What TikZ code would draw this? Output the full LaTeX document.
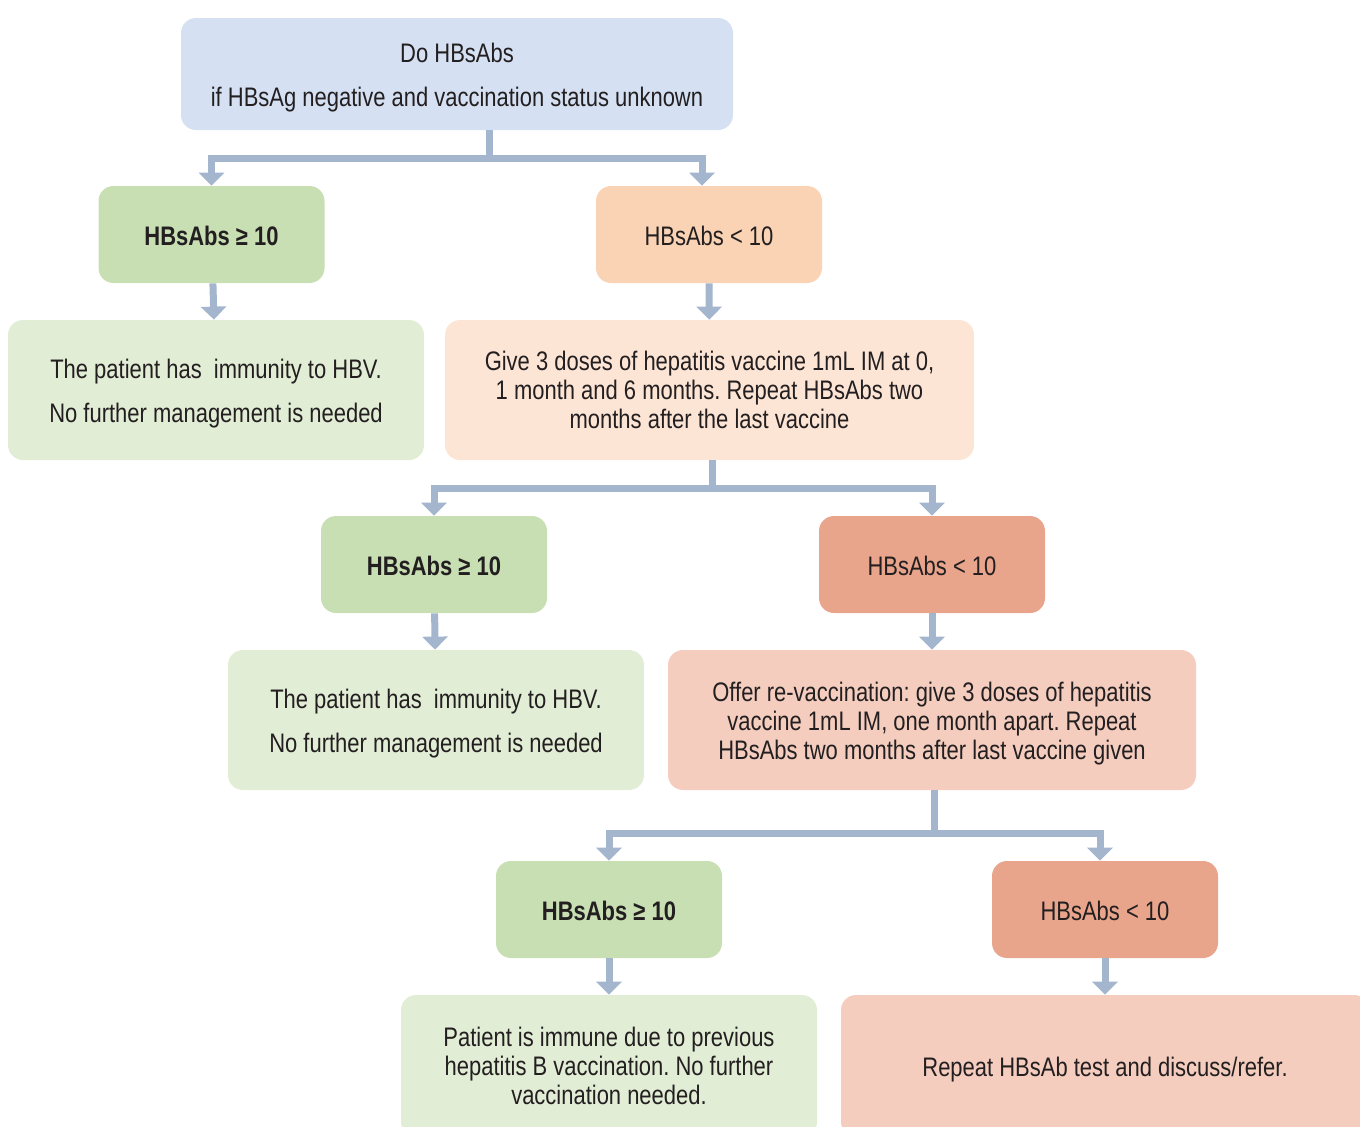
\documentclass[tikz,border=0pt]{standalone}
\usepackage{fontspec}
\setmainfont[FakeStretch=0.82]{Liberation Sans}
\frenchspacing
\usetikzlibrary{arrows.meta}

\definecolor{topblue}{HTML}{D5E1F3}
\definecolor{okgreen}{HTML}{C8DFB4}
\definecolor{okpale}{HTML}{E2EDD6}
\definecolor{lowpeach}{HTML}{FAD3B4}
\definecolor{lowpale}{HTML}{FDE5D6}
\definecolor{lowred}{HTML}{E9A58C}
\definecolor{redpale}{HTML}{F4CDBF}
\definecolor{flowblue}{HTML}{A4B6CD}
\definecolor{ink}{HTML}{231F20}

% taller first line, pushes the text block a little down
\newcommand{\lift}{\rule{0pt}{13.7pt}}

\tikzset{
  box/.style={rounded corners=7.5pt,inner sep=0pt,align=center,text=ink,
    font=\fontsize{13.4}{14.5}\selectfont},
  result/.style={box,minimum width=113pt,minimum height=48.5pt,
    execute at begin node=\rule{0pt}{10.7pt}},
  note/.style={box,minimum height=70pt},
  stem/.style={draw=flowblue,line width=3.5pt},
  flow/.style={stem,-{Triangle[width=12.5pt,length=6.5pt]}}
}

\begin{document}
\begin{tikzpicture}[x=0.5pt,y=-0.5pt]
  \clip (0,0) rectangle (1360,1126);

  % first test
  \node[box,fill=topblue,minimum width=276pt,minimum height=56pt] (top) at (457,74)
    {\lift Do HBsAbs\\[7.5pt]if HBsAg negative and vaccination status unknown};

  \node[result,fill=okgreen] (g1) at (211.5,234.5) {\bfseries HBsAbs ≥ 10};
  \node[result,fill=lowpeach] (o1) at (709,234.5) {HBsAbs < 10};
  \node[note,fill=okpale,minimum width=208pt] (lg1) at (216,390)
    {\lift The patient has~ immunity to HBV.\\[7.5pt]No further management is needed};
  \node[note,fill=lowpale,minimum width=264.5pt] (lo1) at (709.5,390)
    {Give 3 doses of hepatitis vaccine 1mL IM at 0,\\1 month and 6 months. Repeat HBsAbs two\\months after the last vaccine};

  % after first course
  \node[result,fill=okgreen] (g2) at (434,564.5) {\bfseries HBsAbs ≥ 10};
  \node[result,fill=lowred] (r2) at (932,564.5) {HBsAbs < 10};
  \node[note,fill=okpale,minimum width=208pt] (lg2) at (436,720)
    {\lift The patient has~ immunity to HBV.\\[7.5pt]No further management is needed};
  \node[note,fill=redpale,minimum width=264pt] (lr2) at (932,720)
    {\lift Offer re-vaccination: give 3 doses of hepatitis\\vaccine 1mL IM, one month apart. Repeat\\HBsAbs two months after last vaccine given};

  % after re-vaccination
  \node[result,fill=okgreen] (g3) at (609,909.5) {\bfseries HBsAbs ≥ 10};
  \node[result,fill=lowred] (r3) at (1105,909.5) {HBsAbs < 10};
  \node[box,fill=okpale,minimum width=208pt,minimum height=71pt] (lg3) at (609,1066)
    {Patient is immune due to previous\\hepatitis B vaccination. No further\\vaccination needed.};
  \node[box,fill=redpale,minimum width=264pt,minimum height=71pt] (lr3) at (1105,1066)
    {\lift Repeat HBsAb test and discuss/refer.};

  % connectors
  \coordinate (j1) at (489,158);
  \coordinate (j2) at (712,488);
  \coordinate (j3) at (934,833);
  \draw[stem] (top.south -| j1) -- (j1);
  \draw[flow] (j1) -| (g1);
  \draw[flow] (j1) -| ([xshift=-3.5pt]o1.north);
  \draw[flow] (g1) -- (lg1);
  \draw[flow] (o1) -- (lo1);
  \draw[stem] (lo1.south -| j2) -- (j2);
  \draw[flow] (j2) -| (g2);
  \draw[flow] (j2) -| (r2);
  \draw[flow] (g2) -- (lg2);
  \draw[flow] (r2) -- (lr2);
  \draw[stem] (lr2.south -| j3) -- (j3);
  \draw[flow] (j3) -| (g3);
  \draw[flow] (j3) -| ([xshift=-2.5pt]r3.north);
  \draw[flow] (g3) -- (lg3);
  \draw[flow] (r3) -- (lr3);
\end{tikzpicture}
\end{document}
